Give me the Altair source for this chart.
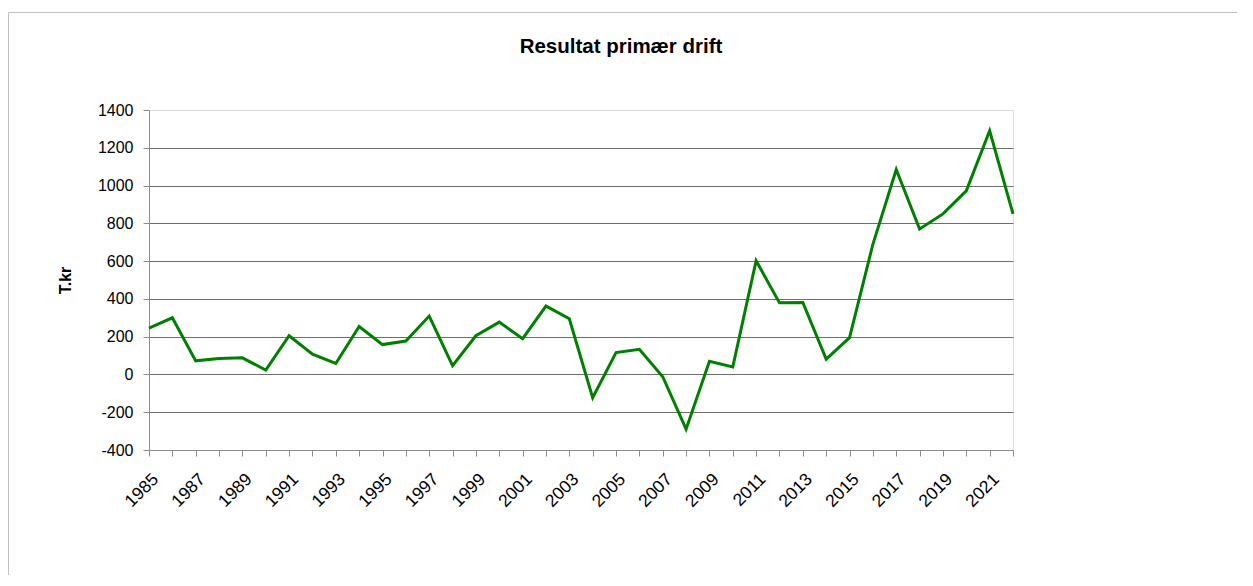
import altair as alt
import pandas as pd

years = list(range(1985, 2023))
values = [245, 300, 72, 84, 88, 23, 205, 107, 58, 254, 158, 177, 309, 46, 205,
          277, 189, 362, 295, -123, 116, 133, -12, -290, 70, 40, 602, 379, 381,
          81, 195, 689, 1085, 770, 850, 972, 1290, 850]
y_ticks = [-400, -200, 0, 200, 400, 600, 800, 1000, 1200, 1400]

title_text = "Resultat primær drift"
y_title = "T.kr"

df = pd.DataFrame({"year": years, "value": values})
FONT = "Liberation Sans"

line = alt.Chart(df).mark_line(color="#008000", strokeWidth=3).encode(
    x=alt.X(
        "year:Q",
        scale=alt.Scale(domain=[1985, 2022], nice=False, zero=False),
        axis=alt.Axis(
            title=None,
            values=years,
            labelExpr="datum.value % 2 == 1 ? toString(datum.value) : ''",
            labelAngle=-45,
            labelOverlap=False,
            labelFlush=False,
            labelFontSize=17.5,
            labelFont=FONT,
            labelColor="#000000",
            labelPadding=14,
            tickSize=6,
            tickColor="#8c8c8c",
            domainColor="#8c8c8c",
            grid=False,
        ),
    ),
    y=alt.Y(
        "value:Q",
        scale=alt.Scale(domain=[-400, 1400], nice=False, zero=False),
        axis=alt.Axis(
            title=y_title,
            titleFont=FONT,
            titleFontSize=16,
            titleFontWeight="bold",
            titleColor="#000000",
            titlePadding=24,
            values=y_ticks,
            labelExpr="toString(datum.value)",
            labelFontSize=16,
            labelFont=FONT,
            labelColor="#000000",
            labelPadding=10,
            tickSize=6,
            tickColor="#8c8c8c",
            domainColor="#8c8c8c",
            grid=True,
            gridWidth=1,
            gridColor={"condition": {"test": "datum.value >= 1400 || datum.value <= -400", "value": "transparent"}, "value": "#6e6e6e"},
        ),
    ),
)

frame_df = pd.DataFrame({"f": [0]})
frame_top = alt.Chart(frame_df).mark_rule(color="#c0c0c0", strokeWidth=1).encode(
    x=alt.value(-140.5), x2=alt.value(1088), y=alt.value(-97.5)
)
frame_left = alt.Chart(frame_df).mark_rule(color="#c0c0c0", strokeWidth=1).encode(
    x=alt.value(-140.5), y=alt.value(-97.5), y2=alt.value(465)
)

chart = (
    alt.layer(frame_top, frame_left, line)
    .properties(
        width=864,
        height=340,
        padding={"left": 0, "top": 4, "right": 0, "bottom": 0},
        title=alt.TitleParams(
            text=title_text,
            font=FONT,
            fontSize=20.5,
            fontWeight="bold",
            color="#000000",
            frame="group",
            anchor="middle",
            offset=-45,
            dx=40,
        ),
    )
    .configure_view(stroke=None)
    .configure(background="#ffffff")
)

chart.save("out.html", embed_options={"renderer": "svg", "actions": False})
